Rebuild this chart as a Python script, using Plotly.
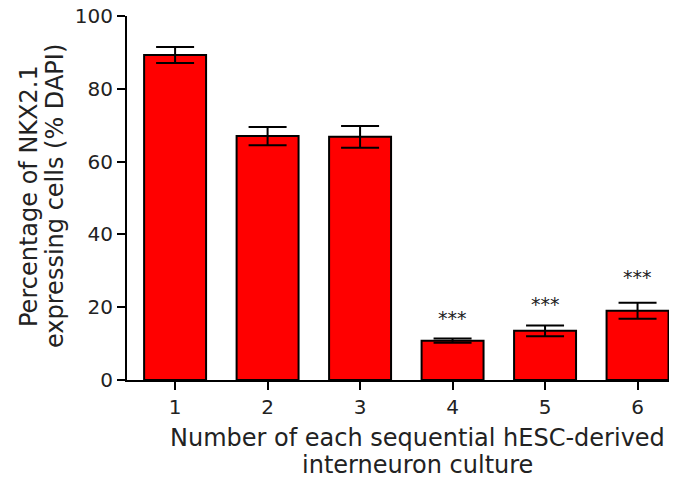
import plotly.graph_objects as go

categories = [1, 2, 3, 4, 5, 6]
tick_labels = ["1", "2", "3", "4", "5", "6"]
values = [89.3, 67.0, 66.8, 10.8, 13.5, 19.0]
errors = [2.2, 2.5, 3.0, 0.6, 1.5, 2.2]
star_labels = ["", "", "", "***", "***", "***"]
star_y = [0, 0, 0, 17.0, 20.8, 28.3]
x_title_lines = ["Number of each sequential hESC-derived", "interneuron culture"]
y_title_lines = ["Percentage of NKX2.1", "expressing cells (% DAPI)"]

FONT = "DejaVu Sans"
TXT = "#222"

fig = go.Figure()
fig.add_trace(go.Bar(
    x=categories, y=values, width=0.67,
    marker=dict(color="#FF0000", line=dict(color="black", width=2)),
    error_y=dict(type="data", array=errors, color="black", thickness=2, width=19),
))

for c, s, sy in zip(categories, star_labels, star_y):
    if s:
        fig.add_annotation(x=c, y=sy, text=s, showarrow=False,
                           font=dict(family=FONT, size=19, color=TXT),
                           yanchor="middle")

# x-axis title (two lines)
for i, line in enumerate(x_title_lines):
    fig.add_annotation(xref="paper", yref="paper", x=0.5, y=0, text=line,
                       showarrow=False, xanchor="center", yanchor="middle",
                       xshift=19, yshift=-(58 + 27 * i),
                       font=dict(family=FONT, size=24, color=TXT))

# y-axis title (two lines, rotated)
for i, line in enumerate(y_title_lines):
    fig.add_annotation(xref="paper", yref="paper", x=0, y=0.5, text=line,
                       showarrow=False, xanchor="center", yanchor="middle",
                       textangle=-90, xshift=-(98 - 26 * i), yshift=2,
                       font=dict(family=FONT, size=24, color=TXT))

fig.update_layout(
    width=682, height=484,
    margin=dict(l=127, r=13, t=16, b=104),
    plot_bgcolor="white", paper_bgcolor="white",
    showlegend=False,
    font=dict(family=FONT, size=20, color=TXT),
    xaxis=dict(
        range=[0.48, 6.34], tickvals=categories, ticktext=tick_labels,
        showline=True, linecolor="black", linewidth=2,
        ticks="outside", ticklen=8, tickwidth=2, tickcolor="black",
        showgrid=False, zeroline=False, automargin=False,
        tickfont=dict(family=FONT, size=20),
    ),
    yaxis=dict(
        range=[0, 100], tickvals=[0, 20, 40, 60, 80, 100],
        showline=True, linecolor="black", linewidth=2,
        ticks="outside", ticklen=8, tickwidth=2, tickcolor="black",
        showgrid=False, zeroline=False, automargin=False,
        tickfont=dict(family=FONT, size=20),
    ),
)

fig.write_html("out.html")
